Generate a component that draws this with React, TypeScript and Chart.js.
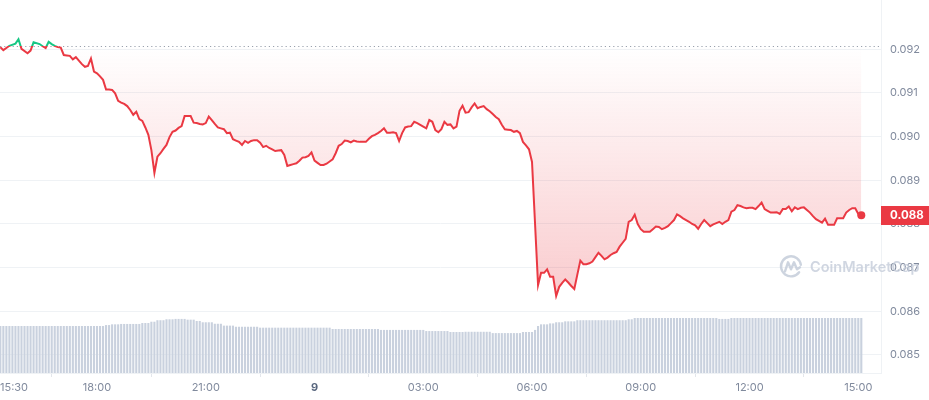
import { useEffect, useRef } from "react";
import { Chart, registerables } from "chart.js";
Chart.register(...registerables);

const times = [
  "15:20","15:25","15:35","15:45","15:50","15:55","16:05","16:10","16:15","16:25","16:30","16:35","16:40","16:45","16:50","16:55",
  "17:00","17:05","17:10","17:15","17:20","17:25","17:30","17:35","17:40","17:45","17:50","17:55",
  "18:00","18:05","18:10","18:15","18:20","18:25","18:30","18:35","18:40","18:45","18:50","18:55",
  "19:00","19:05","19:10","19:15","19:20","19:25","19:30","19:35","19:40","19:45","19:50","19:55",
  "20:00","20:05","20:10","20:15","20:20","20:25","20:30","20:35","20:40","20:45","20:50","20:55",
  "21:00","21:05","21:10","21:15","21:20","21:25","21:30","21:35","21:40","21:45","21:50","21:55",
  "22:00","22:05","22:10","22:15","22:20","22:25","22:30","22:35","22:40","22:45","22:50","22:55",
  "23:00","23:05","23:10","23:15","23:20","23:25","23:30","23:35","23:40","23:45","23:50","23:55",
  "00:00","00:05","00:10","00:15","00:20","00:25","00:30","00:35","00:40","00:45","00:50","00:55",
  "01:00","01:05","01:10","01:15","01:20","01:25","01:30","01:35","01:40","01:45","01:50","01:55",
  "02:00","02:05","02:10","02:15","02:20","02:25","02:30","02:35","02:40","02:45","02:50","02:55",
  "03:00","03:05","03:10","03:15","03:20","03:25","03:30","03:35","03:40","03:45","03:50","03:55",
  "04:00","04:05","04:10","04:15","04:20","04:25","04:30","04:35","04:40","04:45","04:50","04:55",
  "05:00","05:05","05:10","05:15","05:20","05:25","05:30","05:35","05:40","05:45","05:50","05:55",
  "06:00","06:10","06:15","06:20","06:25","06:30","06:35","06:40","06:45","06:50","06:55",
  "07:00","07:05","07:10","07:15","07:20","07:25","07:30","07:35","07:40","07:45","07:50","07:55",
  "08:00","08:05","08:10","08:15","08:20","08:25","08:30","08:35","08:40","08:45","08:50","08:55",
  "09:00","09:05","09:10","09:15","09:20","09:25","09:30","09:35","09:40","09:45","09:50","09:55",
  "10:00","10:05","10:10","10:15","10:20","10:25","10:30","10:35","10:40","10:45","10:50","10:55",
  "11:00","11:05","11:10","11:15","11:20","11:25","11:30","11:35","11:40","11:45","11:50","11:55",
  "12:00","12:05","12:10","12:15","12:20","12:25","12:30","12:35","12:40","12:45","12:50","12:55",
  "13:00","13:05","13:10","13:15","13:20","13:25","13:30","13:35","13:40","13:45","13:50","13:55",
  "14:00","14:05","14:10","14:15","14:20","14:25","14:30","14:35","14:40","14:45","14:50","14:55",
  "15:00","15:05",
];

const prices = [
  0.09205,0.09198,0.09208,0.09213,0.09223,0.09201,0.09191,0.09197,0.09216,0.09212,0.09207,0.09203,0.09217,0.09212,0.09208,0.09205,
  0.09204,0.09187,0.09186,0.09185,0.09177,0.09182,0.09174,0.09166,0.09160,0.09162,0.09179,0.09149,
  0.09145,0.09138,0.09130,0.09108,0.09108,0.09107,0.09099,0.09082,0.09078,0.09075,0.09070,0.09061,
  0.09050,0.09057,0.09040,0.09036,0.09021,0.09004,0.08969,0.08917,0.08954,0.08962,0.08972,0.08981,
  0.08999,0.09011,0.09014,0.09020,0.09024,0.09047,0.09047,0.09047,0.09032,0.09031,0.09029,0.09028,
  0.09031,0.09046,0.09038,0.09029,0.09021,0.09019,0.09017,0.09008,0.09009,0.08994,0.08991,0.08988,
  0.08981,0.08990,0.08986,0.08990,0.08992,0.08992,0.08986,0.08976,0.08979,0.08974,0.08971,0.08967,
  0.08968,0.08969,0.08958,0.08933,0.08935,0.08937,0.08939,0.08945,0.08952,0.08953,0.08956,0.08964,
  0.08945,0.08940,0.08935,0.08935,0.08938,0.08943,0.08948,0.08962,0.08979,0.08983,0.08991,0.08990,
  0.08987,0.08991,0.08989,0.08988,0.08988,0.08988,0.08995,0.09001,0.09004,0.09008,0.09013,0.09019,
  0.09009,0.09009,0.09010,0.09008,0.08990,0.09008,0.09021,0.09023,0.09024,0.09034,0.09031,0.09027,
  0.09023,0.09019,0.09038,0.09034,0.09015,0.09010,0.09017,0.09034,0.09027,0.09028,0.09019,0.09023,
  0.09059,0.09071,0.09055,0.09056,0.09067,0.09076,0.09065,0.09068,0.09070,0.09063,0.09058,0.09052,
  0.09045,0.09040,0.09027,0.09017,0.09016,0.09015,0.09011,0.09013,0.09008,0.08988,0.08980,0.08971,
  0.08942,0.08660,0.08688,0.08688,0.08696,0.08679,0.08679,0.08635,0.08656,0.08665,0.08673,
  0.08666,0.08658,0.08651,0.08684,0.08716,0.08708,0.08708,0.08710,0.08714,0.08724,0.08734,0.08727,
  0.08719,0.08723,0.08729,0.08733,0.08736,0.08748,0.08757,0.08766,0.08805,0.08809,0.08821,0.08800,
  0.08788,0.08782,0.08782,0.08782,0.08788,0.08794,0.08793,0.08788,0.08791,0.08795,0.08802,0.08809,
  0.08822,0.08818,0.08813,0.08809,0.08805,0.08800,0.08797,0.08789,0.08800,0.08809,0.08802,0.08795,
  0.08799,0.08802,0.08805,0.08800,0.08805,0.08809,0.08828,0.08832,0.08843,0.08841,0.08838,0.08836,
  0.08837,0.08837,0.08834,0.08841,0.08849,0.08834,0.08830,0.08826,0.08826,0.08827,0.08823,0.08834,
  0.08834,0.08840,0.08829,0.08838,0.08834,0.08837,0.08838,0.08832,0.08826,0.08818,0.08811,0.08807,
  0.08803,0.08812,0.08798,0.08798,0.08798,0.08813,0.08813,0.08813,0.08826,0.08832,0.08836,0.08836,
  0.08823,0.08820,
];

const openPrice = 0.09207;

const volumeStart = "15:20";
const volumeStepMinutes = 5;
const volumes = [
  252,252,252,252,252,252,252,252,252,252,
  252,252,252,252,252,252,252,252,252,252,
  252,252,252,252,252,252,252,252,252,252,
  252,252,252,252,252,
  257,257,
  261,261,261,
  263,263,263,263,263,263,263,
  268,268,268,
  275,275,
  283,283,283,
  288,288,288,
  290,290,290,290,
  286,286,286,
  279,279,
  272,272,272,272,
  264,264,264,
  254,254,254,254,
  248,248,248,248,248,248,248,248,
  243,243,243,243,243,243,243,243,243,243,243,243,
  243,243,243,243,243,243,243,243,243,243,243,243,
  236,236,236,236,236,236,236,236,
  236,236,236,236,236,236,236,236,
  231,231,231,231,231,231,231,231,231,231,231,231,231,231,231,
  225,225,225,225,225,225,225,225,
  220,220,220,220,220,
  221,221,221,221,221,221,221,221,221,
  214,214,214,214,214,214,214,214,214,214,
  220,220,220,220,
  231,
  252,
  261,261,261,
  266,266,
  272,272,272,
  277,277,277,277,
  283,283,283,283,283,283,283,283,283,283,283,283,283,283,283,283,283,
  288,288,
  295,295,295,295,295,295,295,295,295,295,295,295,295,295,
  295,295,295,295,295,295,295,295,295,295,295,295,295,295,
  290,290,290,290,
  295,295,295,295,295,295,295,295,295,295,295,
  295,295,295,295,295,295,295,295,295,295,295,
  295,295,295,295,295,295,295,295,295,295,295,
  295,295,295,295,295,295,295,295,295,295,295,
];

const xTickHours = [15.5, 18, 21, 24, 27, 30, 33, 36, 39];
const xTickLabels = ["15:30", "18:00", "21:00", "9", "03:00", "06:00", "09:00", "12:00", "15:00"];
const yTicks = [0.085, 0.086, 0.087, 0.088, 0.089, 0.09, 0.091, 0.092];

const RED = "#ea3943";
const GREEN = "#16c784";
const TICK_GRAY = "#808a9d";

function toHour(t: string): number {
  const [h, m] = t.split(":").map(Number);
  const v = h + m / 60;
  return v < 15.25 ? v + 24 : v;
}

function zeroPadding(s: any) {
  s.paddingTop = 0;
  s.paddingBottom = 0;
  s.paddingLeft = 0;
  s.paddingRight = 0;
}

export default function App() {
  const ref = useRef<HTMLCanvasElement | null>(null);

  useEffect(() => {
    document.body.style.margin = "0";
    const canvas = ref.current;
    if (!canvas) return;
    Chart.defaults.font.family = "Inter, 'Noto Sans', sans-serif";

    const priceData = times.map((t, i) => ({ x: toHour(t), y: prices[i] }));
    const vStart = toHour(volumeStart);
    const volumeData = volumes.map((v, i) => ({ x: vStart + (i * volumeStepMinutes) / 60, y: v }));
    const lastIdx = prices.length - 1;

    const overlay = {
      id: "overlay",
      beforeDatasetsDraw(chart: any) {
        const { ctx, chartArea, scales } = chart;
        const y = Math.round(scales.y.getPixelForValue(openPrice)) + 0.5;
        ctx.save();
        ctx.setLineDash([1.2, 3]);
        ctx.strokeStyle = "#9aa1ad";
        ctx.lineWidth = 1;
        ctx.beginPath();
        ctx.moveTo(chartArea.left, y);
        ctx.lineTo(chartArea.right, y);
        ctx.stroke();
        ctx.restore();
      },
      afterDraw(chart: any) {
        const { ctx, chartArea, scales } = chart;
        // first x tick label, kept inside the canvas
        ctx.save();
        const xs = scales.x;
        const tx = xs.getPixelForValue(xTickHours[0]);
        ctx.font = "11px Inter, sans-serif";
        ctx.fillStyle = TICK_GRAY;
        ctx.textBaseline = "middle";
        ctx.textAlign = "left";
        const w = ctx.measureText(xTickLabels[0]).width;
        ctx.fillText(xTickLabels[0], Math.max(0, tx - w / 2), chartArea.bottom + 15);
        ctx.restore();

        // watermark
        ctx.save();
        const wx = chartArea.right - 90;
        const wy = scales.y.getPixelForValue(0.08703);
        ctx.strokeStyle = "rgba(196,204,217,0.85)";
        ctx.lineWidth = 2.4;
        ctx.lineCap = "round";
        ctx.lineJoin = "round";
        ctx.beginPath();
        ctx.arc(wx, wy, 10, 0.2 * Math.PI, 1.95 * Math.PI, false);
        ctx.stroke();
        ctx.beginPath();
        ctx.moveTo(wx - 6, wy + 5);
        ctx.lineTo(wx - 3, wy - 4);
        ctx.lineTo(wx, wy + 3);
        ctx.lineTo(wx + 3, wy - 4);
        ctx.lineTo(wx + 6, wy + 3);
        ctx.lineTo(wx + 9, wy + 1);
        ctx.stroke();
        ctx.fillStyle = "rgba(196,204,217,0.8)";
        ctx.font = "600 14.5px Inter, sans-serif";
        ctx.textBaseline = "middle";
        ctx.textAlign = "left";
        ctx.fillText("CoinMarketCap", wx + 19, wy + 1);
        ctx.restore();

        // current price label
        const last = prices[lastIdx];
        const py = scales.y.getPixelForValue(last);
        ctx.save();
        ctx.fillStyle = RED;
        ctx.fillRect(chartArea.right, Math.round(py - 9), chart.width - chartArea.right, 19);
        ctx.fillStyle = "#ffffff";
        ctx.font = "bold 11.5px Inter, sans-serif";
        ctx.textBaseline = "middle";
        ctx.textAlign = "left";
        ctx.fillText(last.toFixed(3), chartArea.right + 9, Math.round(py) + 1);
        ctx.restore();
      },
    };

    const chart = new Chart(canvas, {
      type: "line",
      data: {
        datasets: [
          {
            type: "line",
            data: priceData,
            xAxisID: "x",
            yAxisID: "y",
            order: 1,
            borderWidth: 2,
            tension: 0,
            borderColor: (c: any) => {
              const ch = c.chart;
              const area = ch.chartArea;
              if (!area) return RED;
              const yb = ch.scales.y.getPixelForValue(openPrice);
              const f = Math.min(1, Math.max(0, (yb - area.top) / (area.bottom - area.top)));
              const g = ch.ctx.createLinearGradient(0, area.top, 0, area.bottom);
              g.addColorStop(0, GREEN);
              g.addColorStop(f, GREEN);
              g.addColorStop(f, RED);
              g.addColorStop(1, RED);
              return g;
            },
            backgroundColor: (c: any) => {
              const ch = c.chart;
              const area = ch.chartArea;
              if (!area) return "rgba(234,57,67,0.15)";
              const yb = ch.scales.y.getPixelForValue(openPrice);
              const f = Math.min(1, Math.max(0, (yb - area.top) / (area.bottom - area.top)));
              const g = ch.ctx.createLinearGradient(0, area.top, 0, area.bottom);
              g.addColorStop(0, "rgba(234,57,67,0)");
              g.addColorStop(f, "rgba(234,57,67,0)");
              g.addColorStop(1, "rgba(234,57,67,0.34)");
              return g;
            },
            fill: { value: openPrice } as any,
            pointRadius: (c: any) => (c.dataIndex === lastIdx ? 4 : 0),
            pointHoverRadius: 0,
            pointBackgroundColor: RED,
            pointBorderWidth: 0,
          },
          {
            type: "bar",
            data: volumeData as any,
            xAxisID: "x",
            yAxisID: "yVol",
            order: 2,
            backgroundColor: "#c9d1de",
            barPercentage: 0.7,
            categoryPercentage: 1,
          } as any,
        ],
      },
      options: {
        animation: false,
        responsive: false,
        maintainAspectRatio: false,
        layout: { padding: 0, autoPadding: false },
        plugins: { legend: { display: false }, tooltip: { enabled: false } },
        scales: {
          x: {
            type: "linear",
            min: 15.324,
            max: 39.627,
            offset: false,
            afterBuildTicks: (s: any) => {
              s.ticks = xTickHours.map((v) => ({ value: v }));
            },
            afterFit: (s: any) => {
              s.height = 27;
              zeroPadding(s);
            },
            grid: { drawOnChartArea: false, drawTicks: true, tickLength: 4, color: "#e3e6eb" },
            border: { display: true, color: "#eff2f5" },
            ticks: {
              autoSkip: false,
              maxRotation: 0,
              padding: 4,
              callback: (_v: any, i: number) => xTickLabels[i],
              font: (c: any) =>
                c.tick && c.tick.label === "9"
                  ? { size: 11, weight: "bold" }
                  : { size: 11, weight: "normal" },
              color: (c: any) =>
                c.index === 0 ? "rgba(0,0,0,0)" : c.tick && c.tick.label === "9" ? "#58667e" : TICK_GRAY,
            },
          },
          y: {
            type: "linear",
            position: "right",
            min: 0.084587,
            max: 0.093129,
            afterBuildTicks: (s: any) => {
              s.ticks = yTicks.map((v) => ({ value: v }));
            },
            afterFit: (s: any) => {
              s.width = 48;
              zeroPadding(s);
            },
            grid: { color: "#eff2f5", drawTicks: false },
            border: { display: true, color: "#eff2f5" },
            ticks: {
              padding: 9,
              color: TICK_GRAY,
              font: { size: 11 },
              callback: (v: any) => Number(v).toFixed(3),
            },
          },
          yVol: {
            type: "linear",
            display: false,
            min: 0,
            max: 2000,
          },
        },
      },
      plugins: [overlay],
    });

    return () => chart.destroy();
  }, []);

  return (
    <div style={{ width: 929, height: 400, position: "relative" }}>
      <canvas ref={ref} width={929} height={400} style={{ width: 929, height: 400, display: "block" }} />
    </div>
  );
}
